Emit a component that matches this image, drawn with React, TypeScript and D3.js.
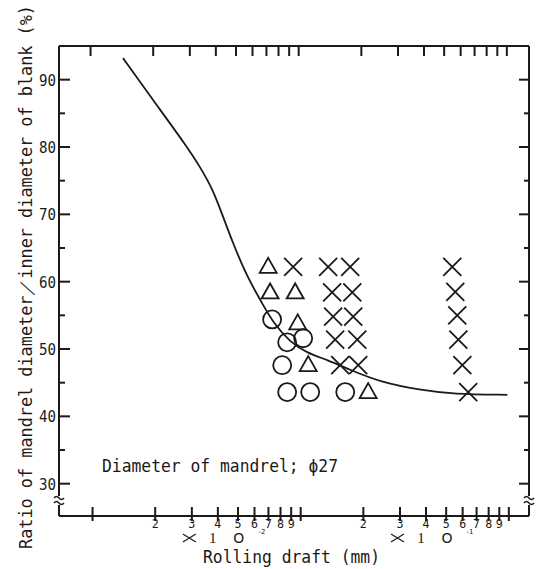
import React from 'react';
import * as d3 from 'd3';

// curve (rolling draft in mm, ratio in %)
const curveDraft = [0.0140, 0.0195, 0.0285, 0.0329, 0.0380, 0.0424, 0.0473, 0.0553, 0.0653, 0.0738, 0.0891, 0.1075, 0.134, 0.173, 0.241, 0.376, 0.541, 0.984];
const curveRatio = [93.2, 87.0, 80.0, 77.0, 73.6, 69.6, 65.7, 60.7, 56.8, 53.9, 51.0, 49.4, 48.4, 46.9, 45.1, 43.9, 43.3, 43.2];

const circleDraft = [0.0729, 0.0861, 0.1028, 0.0815, 0.0861, 0.1111, 0.1637];
const circleRatio = [54.4, 51.0, 51.6, 47.6, 43.6, 43.6, 43.6];

const triangleDraft = [0.0698, 0.0713, 0.0941, 0.0968, 0.1087, 0.211];
const triangleRatio = [62.2, 58.4, 58.4, 53.8, 47.6, 43.6];

const crossDraft = [0.092, 0.1355, 0.1729, 0.1416, 0.177, 0.1432, 0.1788, 0.1464, 0.187, 0.1549, 0.189, 0.535, 0.553, 0.565, 0.572, 0.598, 0.638];
const crossRatio = [62.2, 62.2, 62.2, 58.4, 58.4, 54.8, 54.8, 51.4, 51.4, 47.6, 47.6, 62.2, 58.5, 55.0, 51.4, 47.6, 43.6];

const yMajor = [30, 40, 50, 60, 70, 80, 90];
const yMinor = [35, 45, 55, 65, 75, 85];
const decades = [0.01, 0.1];
const decadeExp = ['-2', '-1'];
const digits = [2, 3, 4, 5, 6, 7, 8, 9];

const W = 536, H = 569;
const L = 59, R = 529, T = 46, B = 516;

const App = () => {
  const x = d3.scaleLog().domain([0.0069, 1.25]).range([L, R]);
  const y = d3.scaleLinear().domain([25.2, 95]).range([B, T]);

  const minorX = decades.flatMap(d => digits.map(k => d * k));
  const majorX = [0.01, 0.1, 1];

  const line = d3.line<number>()
    .x((_, i) => x(curveDraft[i]))
    .y((_, i) => y(curveRatio[i]))
    .curve(d3.curveBasis);

  const mono = '"DejaVu Sans Mono", monospace';
  const ink = '#1a1a1a';

  const wave = (cx: number, cy: number) =>
    `M${cx - 5},${cy} q2.5,-3 5,0 t5,0`;

  return (
    <svg width={W} height={H} style={{ position: 'absolute', left: 0, top: 0, background: '#fff' }}>
      <g stroke={ink} fill="none" strokeWidth={2}>
        {/* frame */}
        <line x1={L} x2={R} y1={T} y2={T} />
        <line x1={L} x2={R} y1={B} y2={B} />
        <line x1={L} x2={L} y1={T} y2={496} />
        <line x1={L} x2={L} y1={505} y2={B} />
        <line x1={R} x2={R} y1={T} y2={496} />
        <line x1={R} x2={R} y1={505} y2={B} />
        {[L, R].map(cx => (
          <g key={cx} strokeWidth={1.5}>
            <path d={wave(cx, 498)} />
            <path d={wave(cx, 503)} />
          </g>
        ))}
        {/* y ticks */}
        {yMajor.map(v => (
          <g key={v}>
            <line x1={L - 1} x2={L + 11} y1={y(v)} y2={y(v)} />
            <line x1={R} x2={R - 10} y1={y(v)} y2={y(v)} />
          </g>
        ))}
        {yMinor.map(v => (
          <g key={v}>
            <line x1={L} x2={L + 6} y1={y(v)} y2={y(v)} />
            <line x1={R} x2={R - 5} y1={y(v)} y2={y(v)} />
          </g>
        ))}
        {/* x ticks */}
        {[...majorX, ...minorX].map((v, i) => (
          <g key={i}>
            <line x1={x(v)} x2={x(v)} y1={B - 9} y2={B + 5} />
            <line x1={x(v) - 2} x2={x(v) - 2} y1={T} y2={T + 10} />
          </g>
        ))}
      </g>

      {/* curve */}
      <path d={line(curveDraft) ?? ''} fill="none" stroke={ink} strokeWidth={1.8} />

      {/* markers */}
      <g stroke={ink} fill="none" strokeWidth={1.8}>
        {circleDraft.map((d, i) => (
          <circle key={i} cx={x(d)} cy={y(circleRatio[i])} r={9} />
        ))}
        {triangleDraft.map((d, i) => {
          const cx = x(d), cy = y(triangleRatio[i]);
          return <path key={i} d={`M${cx},${cy - 9}L${cx + 8.5},${cy + 6}L${cx - 8.5},${cy + 6}Z`} />;
        })}
        {crossDraft.map((d, i) => {
          const cx = x(d), cy = y(crossRatio[i]);
          return <path key={i} d={`M${cx - 9},${cy - 9}L${cx + 9},${cy + 9}M${cx + 9},${cy - 9}L${cx - 9},${cy + 9}`} />;
        })}
      </g>

      {/* y tick labels */}
      <g fontFamily={mono} fontSize={16} fill={ink} textAnchor="end">
        {yMajor.map(v => (
          <text key={v} x={L - 3} y={y(v) + 6} textLength={17} lengthAdjust="spacingAndGlyphs">{v}</text>
        ))}
      </g>

      {/* x tick labels */}
      <g fontFamily={mono} fontSize={13} fill={ink} textAnchor="middle">
        {minorX.map((v, i) => (
          <text key={i} x={x(v)} y={B + 12} textLength={7} lengthAdjust="spacingAndGlyphs">{digits[i % 8]}</text>
        ))}
      </g>

      {/* decade multipliers ×10^-2, ×10^-1 */}
      {decades.map((d, i) => {
        const sx = x(d * 3) - 9;
        return (
          <g key={d} transform={`translate(${sx},0)`} fill={ink} textAnchor="middle">
            <path d="M0,534 L13,542 M0,542 L13,534" stroke={ink} strokeWidth={1.2} fill="none" />
            <text x={30} y={543} fontSize={15} fontFamily='"Liberation Serif", serif' fill={ink}>1</text>
            <text x={56} y={543} fontSize={14} fontFamily='"DejaVu Sans", sans-serif' fill={ink}>O</text>
            <text x={79} y={534} fontSize={7} fontFamily='"DejaVu Sans", sans-serif' fill={ink}>{decadeExp[i]}</text>
          </g>
        );
      })}

      {/* axis titles */}
      <text x={203} y={563} fontFamily={mono} fontSize={17} fill={ink}
        textLength={177} lengthAdjust="spacingAndGlyphs">Rolling draft (mm)</text>
      <text transform="translate(32,549) rotate(-90)" fontFamily={mono} fontSize={17} fill={ink}
        textLength={544} lengthAdjust="spacingAndGlyphs">Ratio of mandrel diameter／inner diameter of blank (%)</text>

      {/* annotation */}
      <text x={102} y={472} fontFamily={mono} fontSize={17} fill={ink}
        textLength={236} lengthAdjust="spacingAndGlyphs">Diameter of mandrel; ϕ27</text>
    </svg>
  );
};

export default App;
